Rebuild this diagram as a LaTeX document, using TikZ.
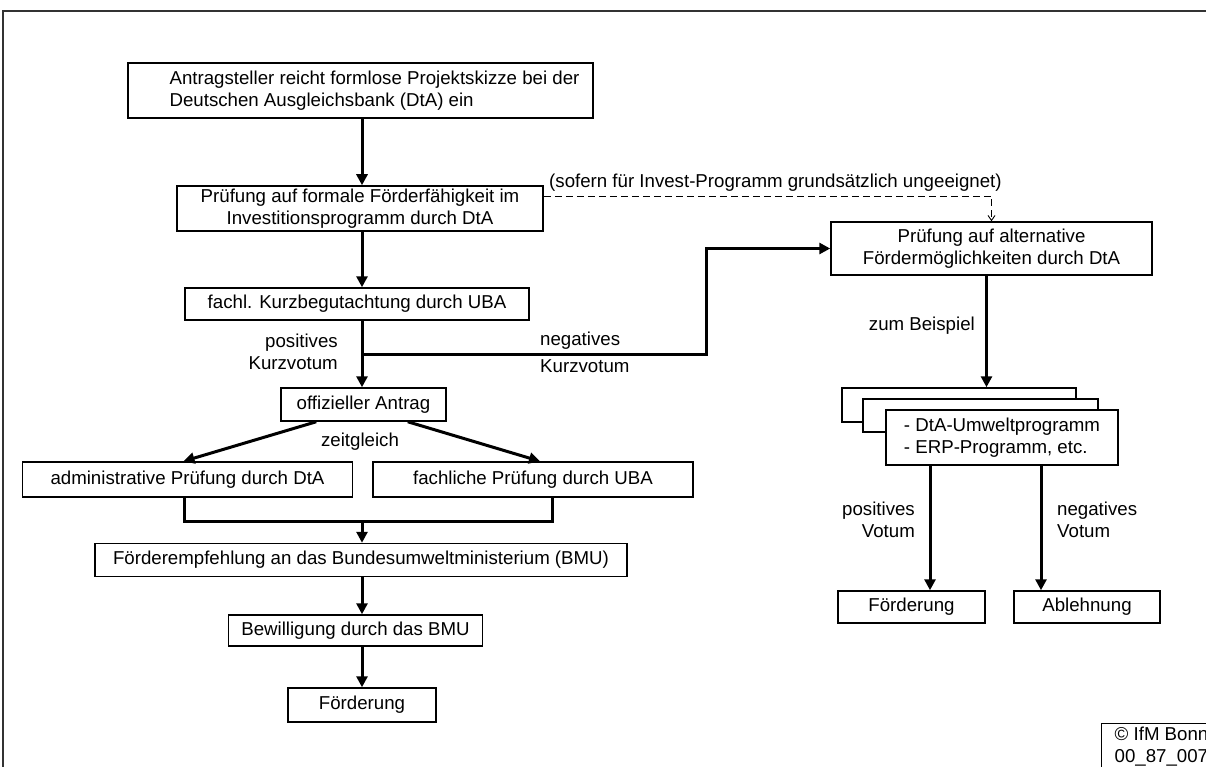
\documentclass[tikz,border=0pt]{standalone}
\usepackage{fontspec}
\setmainfont{Liberation Sans}
\usetikzlibrary{arrows.meta, positioning, calc}
\newcommand{\figfont}{\fontsize{18.67}{22}\selectfont}
\tikzset{
  stepbox/.style={rectangle, draw, line width=1.5pt, fill=white, inner sep=0pt, align=center},
  flow/.style={line width=3pt, -{Triangle[length=11pt,width=11pt]}},
  joinline/.style={line width=3pt},
  maybe/.style={line width=0.9pt, dash pattern=on 7pt off 4pt, -{Straight Barb[length=5pt,width=7pt]}},
  note/.style={inner sep=0pt}
}

\begin{document}
\begin{tikzpicture}[x=1pt, y=-1pt, font=\figfont]
\useasboundingbox (0,0) rectangle (1206,767);
% frame
\draw[line width=1.5pt, black!80] (3,767) -- (3,11) -- (1206,11);
\coordinate (spine) at (362,0);

% main path (left)
\node[stepbox, minimum width=465pt, minimum height=55pt, align=left] (skizze) at (360.5,90.5)
  {\hspace*{28pt}Antragsteller reicht formlose Projektskizze bei der\\
   \hspace*{28pt}Deutschen Ausgleichsbank (DtA) ein};
\node[stepbox, minimum width=366pt, minimum height=45pt] (formal) at (360,208.5)
  {Prüfung auf formale Förderfähigkeit im\\Investitionsprogramm durch DtA};
\node[stepbox, minimum width=344pt, minimum height=32pt] (kurz) at (357,304)
  {fachl. Kurzbegutachtung durch UBA};
\node[stepbox, minimum width=165pt, minimum height=33pt] (antrag) at (363.5,404.5)
  {offizieller Antrag};
\node[stepbox, minimum width=330pt, minimum height=35pt] (admin) at (187.5,479.5)
  {administrative Prüfung durch DtA};
\node[stepbox, minimum width=320pt, minimum height=35pt] (fach) at (533,479.5)
  {fachliche Prüfung durch UBA};
\node[stepbox, minimum width=532pt, minimum height=33pt] (empf) at (361,560)
  {Förderempfehlung an das Bundesumweltministerium (BMU)};
\node[stepbox, minimum width=254pt, minimum height=31pt] (bewill) at (355.5,630.5)
  {Bewilligung durch das BMU};
\node[stepbox, minimum width=148pt, minimum height=34pt] (foerd) at (362,705)
  {Förderung};

% alternative path (right)
\node[stepbox, minimum width=321pt, minimum height=53pt] (altern) at (991.5,248.5)
  {Prüfung auf alternative\\Fördermöglichkeiten durch DtA};
\node[stepbox, minimum width=234pt, minimum height=34pt] (progA) at (959,405) {};
\node[stepbox, minimum width=235pt, minimum height=33pt] (progB) at (980.5,415.5) {};
\node[stepbox, minimum width=232pt, minimum height=55pt, align=left] (progC) at (1002,437.5)
  {- DtA-Umweltprogramm\\- ERP-Programm, etc.};
\node[stepbox, minimum width=147pt, minimum height=32pt] (ja) at (911.5,607) {Förderung};
\node[stepbox, minimum width=146pt, minimum height=32pt] (nein) at (1087,607) {Ablehnung};

% labels
\node[note, anchor=west] (sofern) at (549,183)
  {(sofern für Invest-Programm grundsätzlich ungeeignet)};
\node[note, anchor=east, align=right] (posk) at (338,352) {positives\\Kurzvotum};
\node[note, anchor=west] (negk1) at (540,341) {negatives};
\node[note, anchor=west] (negk2) at (540,366) {Kurzvotum};
\node[note] (zeit) at (360,442) {zeitgleich};
\node[note, anchor=east] (bsp) at (975,326) {zum Beispiel};
\node[note, anchor=east, align=right] (posv) at (915,520) {positives\\Votum};
\node[note, anchor=west, align=left] (negv) at (1057,520) {negatives\\Votum};
\node[draw, line width=1pt, anchor=north west, align=left, inner xsep=5pt, inner ysep=3pt,
  minimum width=120pt] (copy) at (1101,723) {© IfM Bonn\\00\_87\_007};

% connectors
\coordinate (split) at (kurz.south -| spine);
\coordinate (knick) at (706,354);
\coordinate (join) at (362,521);
\draw[flow] (skizze.south -| spine) -- (formal.north -| spine);
\draw[flow] (formal.south -| spine) -- (kurz.north -| spine);
\draw[flow] (split) -- (antrag.north -| spine);
\draw[flow] (split |- knick) -- (knick) |- (altern.west);
\draw[flow] ([xshift=36pt]antrag.south west) -- ([xshift=-4pt]admin.north);
\draw[flow] ([xshift=-39pt]antrag.south east) -- ([xshift=7pt]fach.north);
\draw[joinline] ([xshift=-3pt]admin.south) |- (join) -| ([xshift=19pt]fach.south);
\draw[flow] (join) -- (empf.north -| spine);
\draw[flow] (empf.south -| spine) -- (bewill.north -| spine);
\draw[flow] (bewill.south -| spine) -- (foerd.north -| spine);
\draw[maybe] ([yshift=12.5pt]formal.east) -| (altern.north);
\draw[flow] ([xshift=-5pt]altern.south) -- ([xshift=-5pt]altern.south |- progA.north);
\draw[flow] ([xshift=-72pt]progC.south) -- ([xshift=-72pt]progC.south |- ja.north);
\draw[flow] ([xshift=39pt]progC.south) -- ([xshift=39pt]progC.south |- nein.north);
\end{tikzpicture}
\end{document}
